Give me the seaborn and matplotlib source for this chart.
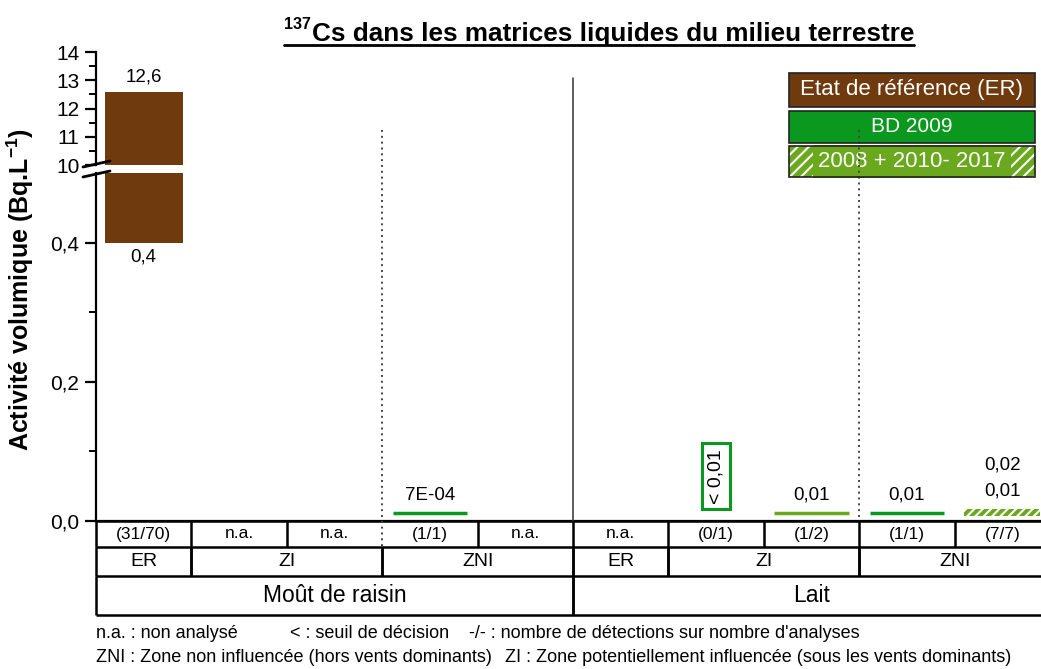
import numpy as np
import matplotlib.pyplot as plt
import matplotlib.patches as patches
from matplotlib.lines import Line2D
from matplotlib.transforms import blended_transform_factory
import seaborn as sns

# --- data
matrices = ['Moût de raisin'] * 5 + ['Lait'] * 5
zones = ['ER', 'ZI', 'ZI', 'ZNI', 'ZNI', 'ER', 'ZI', 'ZI', 'ZNI', 'ZNI']
periodes = ['ER', 'BD', 'AUT', 'BD', 'AUT', 'ER', 'BD', 'AUT', 'BD', 'AUT']
val_min = [0.4, np.nan, np.nan, 0.011, np.nan, np.nan, np.nan, 0.011, 0.011, 0.007]
val_max = [12.6, np.nan, np.nan, 0.011, np.nan, np.nan, np.nan, 0.011, 0.011, 0.017]
lab_haut = ['12,6', '', '', '7E-04', '', '', '', '0,01', '0,01', '0,01']
lab_haut2 = ['', '', '', '', '', '', '', '', '', '0,02']
lab_bas = ['0,4', '', '', '', '', '', '', '', '', '']
seuils = ['', '', '', '', '', '', '< 0,01', '', '', '']
seuil_val = 0.011
detections = ['(31/70)', 'n.a.', 'n.a.', '(1/1)', 'n.a.', 'n.a.', '(0/1)', '(1/2)', '(1/1)', '(7/7)']

ticks_haut = [10, 11, 12, 13, 14]
ticks_haut_lab = ['10', '11', '12', '13', '14']
ticks_bas = [0.0, 0.2, 0.4]
ticks_bas_lab = ['0,0', '0,2', '0,4']

legende = ['Etat de référence (ER)', 'BD 2009', '2008 + 2010- 2017']

brun = '#6e3a0e'
vert = '#0b981f'
vert_clair = '#6aa81e'
couleurs = {'ER': brun, 'BD': vert, 'AUT': vert_clair}

sns.set_theme(style='ticks')
plt.rcParams['font.family'] = ['Liberation Sans', 'DejaVu Sans']
plt.rcParams['mathtext.fontset'] = 'custom'
plt.rcParams['mathtext.rm'] = 'Liberation Sans'
plt.rcParams['mathtext.bf'] = 'Liberation Sans:bold'
plt.rcParams['hatch.linewidth'] = 1.5
for k in ('text.color', 'axes.labelcolor', 'xtick.color', 'ytick.color', 'axes.edgecolor'):
    plt.rcParams[k] = 'black'

W, H = 1041, 669
fig = plt.figure(figsize=(W / 100, H / 100), dpi=100)


def px(x0, y0, x1, y1):
    return [x0 / W, 1 - y1 / H, (x1 - x0) / W, (y1 - y0) / H]


ax_top = fig.add_axes(px(96, 52, 1050, 165))
ax_bot = fig.add_axes(px(96, 173, 1050, 521))
ax_tab = fig.add_axes(px(96, 521, 1050, 615))

x = np.arange(len(zones))
for ax in (ax_top, ax_bot):
    for i in x:
        lo, hi = val_min[i], val_max[i]
        if np.isnan(lo):
            continue
        p = periodes[i]
        if p == 'ER':
            ax.bar(i, hi - lo, bottom=lo, width=0.82, color=brun, lw=0)
        elif hi - lo > 0.003:
            ax.bar(i, hi - lo, bottom=lo, width=0.8, color=couleurs[p],
                   edgecolor='white', lw=0, hatch='////')
        else:
            ax.bar(i, hi - lo, bottom=lo, width=0.78, color=couleurs[p],
                   edgecolor=couleurs[p], lw=2.5)
    ax.set_xlim(-0.5, 9.5)
    ax.set_xticks([])
    ax.tick_params(axis='y', which='major', length=8, width=1.6, labelsize=15, pad=4)
    ax.tick_params(axis='y', which='minor', length=5, width=1.4)
    for s in ax.spines.values():
        s.set_linewidth(1.6)
        s.set_color('black')

ax_top.set_ylim(10, 14)
ax_top.set_yticks(ticks_haut, ticks_haut_lab)
ax_top.set_yticks(np.arange(10.5, 14, 1.0), minor=True)
sns.despine(ax=ax_top, bottom=True)
ax_bot.set_ylim(0, 0.5)
ax_bot.set_yticks(ticks_bas, ticks_bas_lab)
ax_bot.set_yticks([0.1, 0.3], minor=True)
sns.despine(ax=ax_bot)

# value labels
for i in x:
    if lab_haut[i]:
        axl = ax_top if val_max[i] > 0.5 else ax_bot
        off = 4 if periodes[i] == 'ER' else 7
        axl.annotate(lab_haut[i], (i, val_max[i]), xytext=(0, off), textcoords='offset points',
                     ha='center', va='bottom', fontsize=13.5)
    if lab_haut2[i]:
        ax_bot.annotate(lab_haut2[i], (i, val_max[i]), xytext=(0, 26), textcoords='offset points',
                        ha='center', va='bottom', fontsize=13.5)
    if lab_bas[i]:
        ax_bot.annotate(lab_bas[i], (i, val_min[i]), xytext=(0, -4), textcoords='offset points',
                        ha='center', va='top', fontsize=13.5)
    if seuils[i]:
        ax_bot.annotate(seuils[i], (i, seuil_val), xytext=(0, 7), textcoords='offset points',
                        ha='center', va='bottom', rotation=90, fontsize=14,
                        bbox=dict(boxstyle='square,pad=0.3', facecolor='white',
                                  edgecolor=vert, lw=2.2))

# separators through both panels
tr = blended_transform_factory(ax_bot.transData, fig.transFigure)
fig.add_artist(Line2D([4.5, 4.5], [1 - 78 / H, 1 - 521 / H], transform=tr, color='#333333', lw=1.1))
fig.add_artist(Line2D([2.5, 2.5], [1 - 130 / H, 1 - 547 / H], transform=tr, color='#444444',
                      lw=1.4, ls=(0, (1, 2)), zorder=5))
fig.add_artist(Line2D([7.5, 7.5], [1 - 130 / H, 1 - 521 / H], transform=tr, color='#444444',
                      lw=1.4, ls=(0, (1, 2)), zorder=5))

# axis break marks
for y0 in (167, 177):
    fig.add_artist(Line2D([83 / W, 110 / W], [1 - y0 / H, 1 - (y0 - 6) / H], color='black', lw=2))

# table under the axis
ax_tab.set_xlim(-0.5, 9.5)
ax_tab.set_ylim(94, 0)
ax_tab.axis('off')
rows = [0, 26, 55, 94]
ax_tab.hlines(rows, -0.5, 9.5, color='black', lw=1.8, clip_on=False)
for i in x:
    ax_tab.text(i, 13, detections[i], ha='center', va='center', fontsize=12.5)
edges_r1 = [e for e in np.arange(-0.5, 10, 1.0) if e != 2.5]
ax_tab.vlines(edges_r1, rows[0], rows[1], color='black', lw=1.8, clip_on=False)


def runs(keys):
    out, start = [], 0
    for j in range(1, len(keys) + 1):
        if j == len(keys) or keys[j] != keys[start]:
            out.append((start, j - 1))
            start = j
    return out


zone_keys = list(zip(matrices, zones))
for a, b in runs(zone_keys):
    ax_tab.text((a + b) / 2, 40.5, zones[a], ha='center', va='center', fontsize=14)
    ax_tab.vlines([a - 0.5, b + 0.5], rows[1], rows[2], color='black', lw=1.8, clip_on=False)
for a, b in runs(matrices):
    ax_tab.text((a + b) / 2, 74.5, matrices[a], ha='center', va='center', fontsize=16.5)
    ax_tab.vlines([a - 0.5, b + 0.5], rows[2], rows[3], color='black', lw=1.8, clip_on=False)

# notes
notes = [(96, 634, 'n.a. : non analysé'), (290, 634, '< : seuil de décision'),
         (469, 634, "-/- : nombre de détections sur nombre d'analyses"),
         (96, 657, 'ZNI : Zone non influencée (hors vents dominants)'),
         (505, 657, 'ZI : Zone potentiellement influencée (sous les vents dominants)')]
for nx, ny, t in notes:
    fig.text(nx / W, 1 - ny / H, t, ha='left', va='center', fontsize=13)

# legend boxes
lx0, lx1 = 789, 1035
boxes = [(73, 107, brun), (111, 143, vert), (146, 177, vert_clair)]
for k, (y0, y1, c) in enumerate(boxes):
    r = patches.Rectangle((lx0 / W, 1 - y1 / H), (lx1 - lx0) / W, (y1 - y0) / H,
                          transform=fig.transFigure, facecolor=c, lw=0,
                          edgecolor='white', hatch='///' if k == 2 else None, zorder=3)
    fig.add_artist(r)
    t = fig.text((lx0 + lx1) / 2 / W, 1 - (y0 + y1) / 2 / H, legende[k], ha='center', va='center',
                 color='white', fontsize=16 if k != 1 else 15, zorder=4)
    if k == 2:
        t.set_bbox(dict(facecolor=vert_clair, edgecolor='none', pad=4))
    fig.add_artist(patches.Rectangle((lx0 / W, 1 - y1 / H), (lx1 - lx0) / W, (y1 - y0) / H,
                                     transform=fig.transFigure, fill=False,
                                     edgecolor='#222222', lw=1.2, zorder=6))

# title with superscript and underline
ttl = fig.text(312 / W, 1 - 41 / H, 'Cs dans les matrices liquides du milieu terrestre',
               ha='left', va='baseline', fontsize=18.8, fontweight='bold')
sup = fig.text(311 / W, 1 - 29 / H, '137', ha='right', va='baseline', fontsize=11.5, fontweight='bold')
fig.canvas.draw()
bb = ttl.get_window_extent()
bs = sup.get_window_extent()
fig.add_artist(Line2D([bs.x0 / W, bb.x1 / W], [1 - 45 / H, 1 - 45 / H], color='black', lw=2))

fig.text(20 / W, 1 - 289 / H, r'Activité volumique (Bq.L$^{\mathbf{-1}}$)', rotation=90,
         ha='center', va='center', fontsize=18, fontweight='bold')

fig.savefig('out.png', dpi=100)
